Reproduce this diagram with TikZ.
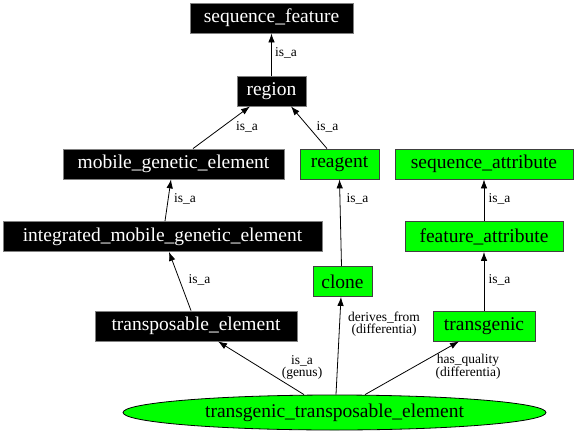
\documentclass[tikz,border=0pt]{standalone}
\usepackage{fontspec}
\setmainfont{Liberation Serif}
\usetikzlibrary{shapes.geometric,arrows.meta}

\begin{document}
\begin{tikzpicture}[x=1pt,y=-1pt,line width=0.8pt,>={Latex[length=9pt,width=6.5pt]},
	blackbox/.style={draw=gray,fill=black,text=white,minimum height=30pt,inner xsep=0pt,font=\fontsize{19.5}{20}\selectfont},
	greenbox/.style={draw=gray!50!black,fill=green,minimum height=30pt,inner xsep=0pt,font=\fontsize{19.5}{20}\selectfont},
	lbl/.style={font=\fontsize{13.5}{12}\selectfont,align=center,inner sep=0pt}]
	\useasboundingbox (0,0) rectangle (576,434);
	\node [blackbox, minimum width=163pt] (sf) at (271.5,18) {sequence\_feature};
	\node [blackbox, minimum width=69pt] (region) at (271.5,91) {region};
	\node [blackbox, minimum width=221pt] (mge) at (173.5,164) {mobile\_genetic\_element};
	\node [greenbox, minimum width=79pt] (reagent) at (339.5,164) {reagent};
	\node [greenbox, minimum width=178pt] (sa) at (484,164) {sequence\_attribute};
	\node [blackbox, minimum width=319pt] (imge) at (162.5,236.5) {integrated\_mobile\_genetic\_element};
	\node [greenbox, minimum width=158pt] (fa) at (484,236.5) {feature\_attribute};
	\node [greenbox, minimum width=59pt] (clone) at (342.5,281.5) {clone};
	\node [blackbox, minimum width=202pt] (te) at (196,326) {transposable\_element};
	\node [greenbox, minimum width=102pt] (tg) at (484,326) {transgenic};
	\node [draw, ellipse, fill=green, minimum width=423pt, minimum height=35pt, inner sep=0pt,
		font=\fontsize{19.5}{20}\selectfont] (tte) at (334.5,412.5) {transgenic\_transposable\_element};
	% is_a edges
	\draw [->] (region) -- (sf);
	\draw [->] ([xshift=19.5pt]mge.north) -- ([xshift=-21.5pt]region.south);
	\draw [->] ([xshift=-12.5pt]reagent.north) -- ([xshift=19.5pt]region.south);
	\draw [->] ([xshift=2.5pt]imge.north) -- ([xshift=-2.5pt]mge.south);
	\draw [->] ([xshift=-1pt]clone.north) -- (reagent.south);
	\draw [->] (fa) -- (sa);
	\draw [->] ([xshift=-5pt]te.north) -- ([xshift=6.5pt]imge.south);
	\draw [->] (tg) -- (fa);
	% genus and differentia
	\draw [->] ([xshift=-30.5pt]tte.north) -- ([xshift=22pt]te.south);
	\draw [->] ([xshift=1.5pt]tte.north) -- ([xshift=-1.5pt]clone.south);
	\draw [->] ([xshift=30.5pt]tte.north) -- ([xshift=-25pt]tg.south);
	% labels
	\node [lbl] (l1) at (286,53) {is\_a};
	\node [lbl] (l2) at (247,127) {is\_a};
	\node [lbl] (l3) at (327.5,127) {is\_a};
	\node [lbl] (l4) at (185,199) {is\_a};
	\node [lbl] (l5) at (357.5,199) {is\_a};
	\node [lbl] (l6) at (499.5,199) {is\_a};
	\node [lbl] (l7) at (199.5,280) {is\_a};
	\node [lbl] (l8) at (499.5,280) {is\_a};
	\node [lbl] (l9) at (384,324) {derives\_from\\(differentia)};
	\node [lbl] (l10) at (302,367) {is\_a\\(genus)};
	\node [lbl] (l11) at (468,367) {has\_quality\\(differentia)};
\end{tikzpicture}
\end{document}
